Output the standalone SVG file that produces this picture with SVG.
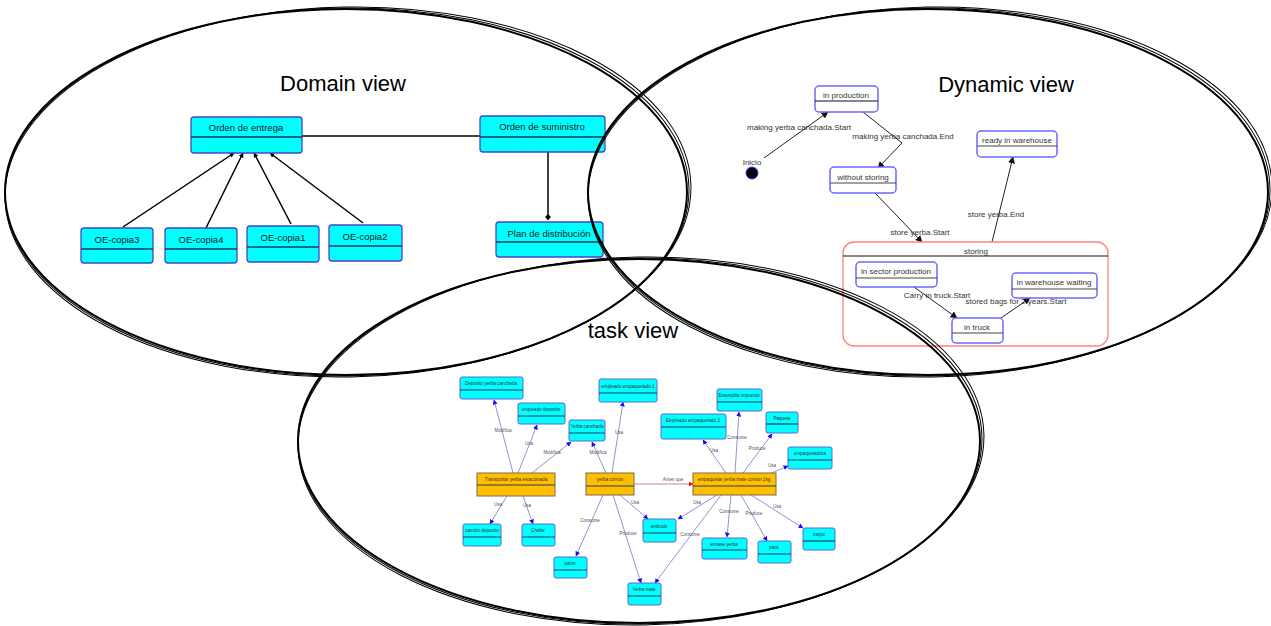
<svg xmlns="http://www.w3.org/2000/svg" width="1271" height="626" viewBox="0 0 1271 626">
  <defs>
    <style>
      .title { font-family: "Liberation Sans", Arial, sans-serif; font-size: 22px; fill: #000; }
      .cls rect { fill: #00ffff; stroke: #4646c8; stroke-width: 1.3; }
      .cls line { stroke: #203a5a; stroke-width: 1.6; }
      .cls text { font-family: "Liberation Sans", Arial, sans-serif; font-size: 9.5px; fill: #1a1a1a; text-anchor: middle; }
      .assoc { stroke: #000; stroke-width: 1.5; fill: none; }
      .state rect { fill: #fff; stroke: #6a6aff; stroke-width: 1.5; }
      .state line { stroke: #444; stroke-width: 1; }
      .state text, .tlabel { font-family: "Liberation Sans", Arial, sans-serif; font-size: 8px; fill: #333; text-anchor: middle; }
      .trans { stroke: #222; stroke-width: 1; fill: none; }
      .task rect { fill: #00ffff; stroke: #5a6ad0; stroke-width: 1; }
      .task.act rect { fill: #ffbf00; stroke: #7a6a50; }
      .task line { stroke: #2a3a5a; stroke-width: 1.2; }
      .task text, .elabel { font-family: "Liberation Sans", Arial, sans-serif; font-size: 4.6px; fill: #333; text-anchor: middle; }
      .elabel { fill: #555; }
      .rel { stroke: #8686cc; stroke-width: 0.9; fill: none; }
      .view { fill: none; stroke: #000; }
    </style>
    <marker id="tri" viewBox="0 0 10 10" refX="9" refY="5" markerWidth="5" markerHeight="5" orient="auto" markerUnits="userSpaceOnUse">
      <path d="M0,0 L10,5 L0,10 Z" fill="#000"/>
    </marker>
    <marker id="dia" viewBox="0 0 10 10" refX="10" refY="5" markerWidth="7" markerHeight="6" orient="auto" markerUnits="userSpaceOnUse">
      <path d="M0,5 L5,0 L10,5 L5,10 Z" fill="#000"/>
    </marker>
    <marker id="st" viewBox="0 0 10 10" refX="9" refY="5" markerWidth="7" markerHeight="7" orient="auto" markerUnits="userSpaceOnUse">
      <path d="M0,0 L10,5 L0,10 Z" fill="#111"/>
    </marker>
    <marker id="blue" viewBox="0 0 10 10" refX="9" refY="5" markerWidth="5" markerHeight="5" orient="auto" markerUnits="userSpaceOnUse">
      <path d="M0,0 L10,5 L0,10 Z" fill="#1010ff"/>
    </marker>
    <marker id="red" viewBox="0 0 10 10" refX="9" refY="5" markerWidth="5" markerHeight="5" orient="auto" markerUnits="userSpaceOnUse">
      <path d="M0,0 L10,5 L0,10 Z" fill="#ff0000"/>
    </marker>
  </defs>

  <rect x="0" y="0" width="1271" height="626" fill="#fff"/>

  <!-- ===== Domain view: class diagram ===== -->
  <text class="title" x="343" y="91" text-anchor="middle">Domain view</text>

  <g id="domain-connectors">
    <line class="assoc" x1="123" y1="227" x2="234" y2="153" marker-end="url(#tri)"/>
    <line class="assoc" x1="206" y1="228" x2="243" y2="153" marker-end="url(#tri)"/>
    <line class="assoc" x1="291" y1="224" x2="254" y2="153" marker-end="url(#tri)"/>
    <line class="assoc" x1="363" y1="223" x2="270" y2="153" marker-end="url(#tri)"/>
    <line class="assoc" x1="302" y1="136" x2="480" y2="136"/>
    <line class="assoc" x1="548" y1="152" x2="548" y2="220" marker-end="url(#dia)"/>
  </g>

  <g id="orden-entrega" class="cls">
    <rect x="191" y="117" width="111" height="36" rx="3"/>
    <line x1="191" y1="137" x2="302" y2="137"/>
    <text x="246" y="131">Orden de entrega</text>
  </g>
  <g id="orden-suministro" class="cls">
    <rect x="480" y="116" width="125" height="36" rx="3"/>
    <line x1="480" y1="137" x2="605" y2="137"/>
    <text x="542" y="130">Orden de suministro</text>
  </g>
  <g id="plan-distribucion" class="cls">
    <rect x="496" y="222" width="107" height="35" rx="3"/>
    <line x1="496" y1="242" x2="603" y2="242"/>
    <text x="549" y="237">Plan de distribución</text>
  </g>
  <g id="oe-copia3" class="cls">
    <rect x="81" y="228" width="72" height="35" rx="3"/>
    <line x1="81" y1="249" x2="153" y2="249"/>
    <text x="117" y="243">OE-copia3</text>
  </g>
  <g id="oe-copia4" class="cls">
    <rect x="165" y="228" width="72" height="35" rx="3"/>
    <line x1="165" y1="249" x2="237" y2="249"/>
    <text x="201" y="243">OE-copia4</text>
  </g>
  <g id="oe-copia1" class="cls">
    <rect x="247" y="226" width="72" height="36" rx="3"/>
    <line x1="247" y1="247" x2="319" y2="247"/>
    <text x="283" y="241">OE-copia1</text>
  </g>
  <g id="oe-copia2" class="cls">
    <rect x="329" y="225" width="73" height="36" rx="3"/>
    <line x1="329" y1="246" x2="402" y2="246"/>
    <text x="365" y="240">OE-copia2</text>
  </g>

  <!-- ===== Dynamic view: state machine ===== -->
  <text class="title" x="1006" y="92" text-anchor="middle">Dynamic view</text>

  <g id="dynamic-connectors">
    <line class="trans" x1="764" y1="158" x2="828" y2="112" marker-end="url(#st)"/>
    <text class="tlabel" x="799" y="130">making yerba canchada.Start</text>
    <polyline class="trans" points="863,112 902,143 878,168" marker-end="url(#st)"/>
    <text class="tlabel" x="903" y="139">making yerba canchada.End</text>
    <line class="trans" x1="875" y1="193" x2="922" y2="242" marker-end="url(#st)"/>
    <text class="tlabel" x="920" y="235">store yerba.Start</text>
    <line class="trans" x1="992" y1="242" x2="1013" y2="157" marker-end="url(#st)"/>
    <text class="tlabel" x="996" y="217">store yerba.End</text>
    <text class="tlabel" x="937" y="298">Carry in truck.Start</text>
    <text class="tlabel" x="1016" y="304">stored bags for 2 years.Start</text>
    <line class="trans" x1="914" y1="287" x2="957" y2="318" marker-end="url(#st)"/>
    <line class="trans" x1="1001" y1="318" x2="1030" y2="298" marker-end="url(#st)"/>
  </g>

  <g id="inicio">
    <circle cx="752" cy="173" r="6" fill="#000" stroke="#3030ff" stroke-width="1"/>
    <text class="tlabel" x="752" y="165">Inicio</text>
  </g>
  <g id="in-production" class="state">
    <rect x="815" y="86" width="63" height="26" rx="4"/>
    <line x1="815" y1="101" x2="878" y2="101" style="stroke:#111;stroke-width:1.2"/>
    <text x="846" y="98">in production</text>
  </g>
  <g id="without-storing" class="state">
    <rect x="830" y="167" width="66" height="26" rx="4"/>
    <line x1="830" y1="183" x2="896" y2="183"/>
    <text x="863" y="180">without storing</text>
  </g>
  <g id="ready-in-warehouse" class="state">
    <rect x="977" y="131" width="80" height="26" rx="4"/>
    <line x1="977" y1="146" x2="1057" y2="146"/>
    <text x="1017" y="143">ready in warehouse</text>
  </g>
  <g id="storing">
    <rect x="843" y="242" width="265" height="104" rx="11" fill="none" stroke="#ff8080" stroke-width="1.3"/>
    <line x1="843" y1="256" x2="1108" y2="256" stroke="#111" stroke-width="1"/>
    <text class="tlabel" x="976" y="254">storing</text>
  </g>
  <g id="in-sector-production" class="state">
    <rect x="856" y="262" width="81" height="25" rx="4"/>
    <line x1="856" y1="278" x2="937" y2="278"/>
    <text x="896" y="274">in sector production</text>
  </g>
  <g id="in-warehouse-waiting" class="state">
    <rect x="1012" y="273" width="85" height="25" rx="4"/>
    <line x1="1012" y1="289" x2="1097" y2="289"/>
    <text x="1054" y="285">in warehouse waiting</text>
  </g>
  <g id="in-truck" class="state">
    <rect x="952" y="318" width="51" height="25" rx="4"/>
    <line x1="952" y1="333" x2="1003" y2="333"/>
    <text x="977" y="330">in truck</text>
  </g>

  <!-- ===== Task view: task network ===== -->
  <text class="title" x="633" y="338" text-anchor="middle">task view</text>

  <g id="task-connectors">
    <line class="rel" x1="513" y1="473" x2="494" y2="400" marker-end="url(#blue)"/>
    <line class="rel" x1="518" y1="473" x2="537" y2="425" marker-end="url(#blue)"/>
    <line class="rel" x1="532" y1="473" x2="571" y2="442" marker-end="url(#blue)"/>
    <line class="rel" x1="507" y1="496" x2="490" y2="524" marker-end="url(#blue)"/>
    <line class="rel" x1="523" y1="496" x2="533" y2="524" marker-end="url(#blue)"/>
    <line class="rel" x1="606" y1="473" x2="592" y2="442" marker-end="url(#blue)"/>
    <line class="rel" x1="612" y1="473" x2="623" y2="402" marker-end="url(#blue)"/>
    <line class="rel" x1="620" y1="495" x2="648" y2="519" marker-end="url(#blue)"/>
    <line class="rel" x1="603" y1="495" x2="576" y2="556" marker-end="url(#blue)"/>
    <line class="rel" x1="613" y1="495" x2="641" y2="583" marker-end="url(#blue)"/>
    <line x1="634" y1="484" x2="693" y2="484" stroke="#e07070" stroke-width="0.9" marker-end="url(#red)"/>
    <line class="rel" x1="726" y1="473" x2="703" y2="440" marker-end="url(#blue)"/>
    <line class="rel" x1="735" y1="473" x2="739" y2="412" marker-end="url(#blue)"/>
    <line class="rel" x1="743" y1="473" x2="772" y2="434" marker-end="url(#blue)"/>
    <line class="rel" x1="767" y1="475" x2="788" y2="466" marker-end="url(#blue)"/>
    <line class="rel" x1="717" y1="495" x2="678" y2="519" marker-end="url(#blue)"/>
    <line class="rel" x1="731" y1="495" x2="727" y2="537" marker-end="url(#blue)"/>
    <line class="rel" x1="741" y1="495" x2="767" y2="541" marker-end="url(#blue)"/>
    <line class="rel" x1="751" y1="495" x2="803" y2="528" marker-end="url(#blue)"/>
    <line class="rel" x1="721" y1="495" x2="655" y2="583" marker-end="url(#blue)"/>

    <text class="elabel" x="503" y="432">Modifica</text>
    <text class="elabel" x="529" y="445">Usa</text>
    <text class="elabel" x="552" y="454">Modifica</text>
    <text class="elabel" x="498" y="506">Usa</text>
    <text class="elabel" x="527" y="507">Usa</text>
    <text class="elabel" x="598" y="454">Modifica</text>
    <text class="elabel" x="619" y="434">Usa</text>
    <text class="elabel" x="635" y="504">Usa</text>
    <text class="elabel" x="590" y="522">Consume</text>
    <text class="elabel" x="628" y="535">Produce</text>
    <text class="elabel" x="673" y="481">Antes que</text>
    <text class="elabel" x="714" y="452">Usa</text>
    <text class="elabel" x="737" y="439">Consume</text>
    <text class="elabel" x="757" y="450">Produce</text>
    <text class="elabel" x="772" y="467">Usa</text>
    <text class="elabel" x="697" y="504">Usa</text>
    <text class="elabel" x="729" y="513">Consume</text>
    <text class="elabel" x="754" y="515">Produce</text>
    <text class="elabel" x="777" y="508">Usa</text>
    <text class="elabel" x="690" y="536">Consume</text>
  </g>

  <g id="deposito-yerba-canchada" class="task">
    <rect x="460" y="377" width="63" height="22" rx="2"/>
    <line x1="460" y1="390" x2="523" y2="390"/>
    <text x="491" y="385">Deposito yerba canchada</text>
  </g>
  <g id="empleado-deposito" class="task">
    <rect x="518" y="403" width="47" height="21" rx="2"/>
    <line x1="518" y1="416" x2="565" y2="416"/>
    <text x="541" y="411">empleado deposito</text>
  </g>
  <g id="yerba-canchada" class="task">
    <rect x="569" y="420" width="36" height="21" rx="2"/>
    <line x1="569" y1="433" x2="605" y2="433"/>
    <text x="587" y="428">Yerba canchada</text>
  </g>
  <g id="empleado-empaquetado-1" class="task">
    <rect x="599" y="379" width="58" height="23" rx="2"/>
    <line x1="599" y1="393" x2="657" y2="393"/>
    <text x="628" y="388">empleado empaquetado 1</text>
  </g>
  <g id="transportar" class="task act">
    <rect x="477" y="473" width="78" height="23"/>
    <line x1="477" y1="485" x2="555" y2="485"/>
    <text x="516" y="481">Transportar yerba estacionada</text>
  </g>
  <g id="yerba-comun" class="task act">
    <rect x="586" y="473" width="48" height="22"/>
    <line x1="586" y1="486" x2="634" y2="486"/>
    <text x="610" y="481">yerba común</text>
  </g>
  <g id="camion-deposito" class="task">
    <rect x="463" y="524" width="38" height="22" rx="2"/>
    <line x1="463" y1="537" x2="501" y2="537"/>
    <text x="482" y="532">camión deposito</text>
  </g>
  <g id="chofer" class="task">
    <rect x="522" y="524" width="33" height="22" rx="2"/>
    <line x1="522" y1="537" x2="555" y2="537"/>
    <text x="538" y="532">Chofer</text>
  </g>
  <g id="palos" class="task">
    <rect x="554" y="557" width="33" height="21" rx="2"/>
    <line x1="554" y1="570" x2="587" y2="570"/>
    <text x="570" y="565">palos</text>
  </g>
  <g id="yerba-mate" class="task">
    <rect x="628" y="583" width="33" height="22" rx="2"/>
    <line x1="628" y1="596" x2="661" y2="596"/>
    <text x="644" y="591">Yerba mate</text>
  </g>
  <g id="embudo" class="task">
    <rect x="643" y="519" width="33" height="23" rx="2"/>
    <line x1="643" y1="533" x2="676" y2="533"/>
    <text x="659" y="528">embudo</text>
  </g>
  <g id="estampilla-impuesto" class="task">
    <rect x="717" y="389" width="45" height="22" rx="2"/>
    <line x1="717" y1="402" x2="762" y2="402"/>
    <text x="739" y="397">Estampilla impuesto</text>
  </g>
  <g id="empleado-empaquetado-2" class="task">
    <rect x="661" y="414" width="65" height="25" rx="2"/>
    <line x1="661" y1="427" x2="726" y2="427"/>
    <text x="693" y="422">Empleado empaquetado 2</text>
  </g>
  <g id="paquete" class="task">
    <rect x="766" y="412" width="32" height="21" rx="2"/>
    <line x1="766" y1="424" x2="798" y2="424"/>
    <text x="782" y="420">Paquete</text>
  </g>
  <g id="empaquetadora" class="task">
    <rect x="788" y="447" width="44" height="22" rx="2"/>
    <line x1="788" y1="460" x2="832" y2="460"/>
    <text x="810" y="455">empaquetadora</text>
  </g>
  <g id="empaquetar" class="task act">
    <rect x="693" y="473" width="83" height="22"/>
    <line x1="693" y1="486" x2="776" y2="486"/>
    <text x="734" y="481">empaquetar yerba mate común 1kg</text>
  </g>
  <g id="envase-yerba" class="task">
    <rect x="702" y="538" width="45" height="21" rx="2"/>
    <line x1="702" y1="550" x2="747" y2="550"/>
    <text x="724" y="546">envase yerba</text>
  </g>
  <g id="pack" class="task">
    <rect x="758" y="541" width="33" height="22" rx="2"/>
    <line x1="758" y1="554" x2="791" y2="554"/>
    <text x="774" y="549">pack</text>
  </g>
  <g id="zarpic" class="task">
    <rect x="803" y="528" width="32" height="22" rx="2"/>
    <line x1="803" y1="541" x2="835" y2="541"/>
    <text x="819" y="536">zarpic</text>
  </g>

  <!-- ===== View outlines: sketchy triple-stroked ellipses ===== -->
  <g id="view-outlines">
    <g id="domain-outline">
      <ellipse class="view" cx="346" cy="192" rx="341" ry="183" stroke-width="2"/>
      <ellipse class="view" cx="347" cy="192" rx="342" ry="184" stroke-width="1" transform="rotate(-0.5 346 192)"/>
      <ellipse class="view" cx="348" cy="192" rx="343" ry="185" stroke-width="1" transform="rotate(-1 346 192)"/>
    </g>
    <g id="dynamic-outline">
      <ellipse class="view" cx="928" cy="192" rx="340" ry="183" stroke-width="2"/>
      <ellipse class="view" cx="929" cy="192" rx="341" ry="184" stroke-width="1" transform="rotate(-0.5 928 192)"/>
      <ellipse class="view" cx="930" cy="192" rx="342" ry="185" stroke-width="1" transform="rotate(-1 928 192)"/>
    </g>
    <g id="task-outline">
      <ellipse class="view" cx="639" cy="441" rx="341" ry="182" stroke-width="2"/>
      <ellipse class="view" cx="640" cy="441" rx="342" ry="183" stroke-width="1" transform="rotate(-0.5 639 441)"/>
      <ellipse class="view" cx="641" cy="441" rx="343" ry="184" stroke-width="1" transform="rotate(-1 639 441)"/>
    </g>
  </g>
</svg>
